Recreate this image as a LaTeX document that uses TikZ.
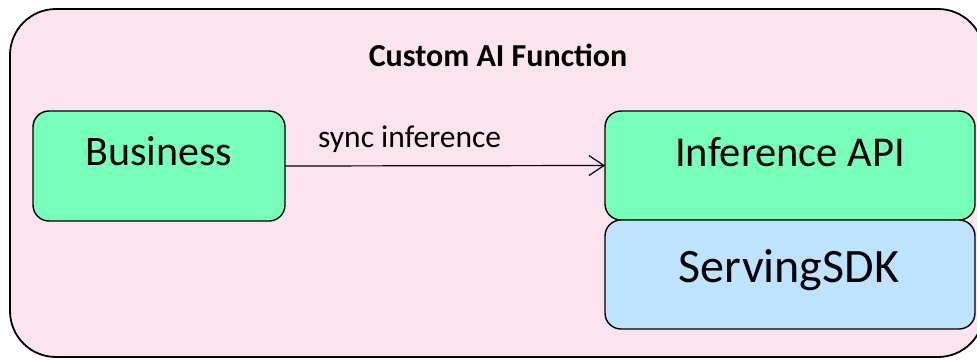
\documentclass[tikz,border=0pt]{standalone}
\usepackage{fontspec}
\setmainfont{Carlito}
\usetikzlibrary{arrows.meta}
\definecolor{framepink}{HTML}{FCE4EE}
\definecolor{boxgreen}{HTML}{77FFB9}
\definecolor{boxblue}{HTML}{BDE3FE}
\tikzset{
  px/.style={x=1pt,y=-1pt},
  frame/.style={draw=black, line width=1.8pt, fill=framepink, rounded corners=46pt,
    rectangle, inner sep=0pt, outer sep=0pt},
  block/.style={draw=black, line width=1.4pt, rectangle, rounded corners=16pt,
    inner sep=0pt, outer sep=0pt},
  greenblock/.style={block, fill=boxgreen},
  blueblock/.style={block, fill=boxblue},
  caption/.style={inner sep=0pt, anchor=base, font=\fontsize{42.5}{50}\selectfont},
  flow/.style={line width=1.2pt, -{Straight Barb[length=15pt,width=20pt,line width=1.2pt]}},
}
\begin{document}
\begin{tikzpicture}[px]
  \useasboundingbox (0,0) rectangle (977,359);
  \clip (0,0) rectangle (977,359);
  % enclosing frame, its right side runs past the page edge
  \node[frame, minimum width=974pt, minimum height=348pt] (frame) at (497,183) {};
  \node[inner sep=0pt, anchor=base, font=\bfseries\fontsize{32}{38}\selectfont] (title) at (498,66) {Custom AI Function};
  % caller
  \node[greenblock, minimum width=252pt, minimum height=110pt] (business) at (159,166) {};
  \node[caption, font=\fontsize{42}{50}\selectfont] (businessT) at (159,165) {Business};
  % callee stack
  \node[greenblock, minimum width=370pt, minimum height=109pt] (api) at (790,165.5) {};
  \node[caption] (apiT) at (790,166) {Inference API};
  \node[blueblock, minimum width=370pt, minimum height=109pt] (sdk) at (790,274.5) {};
  \node[caption, font=\fontsize{48}{56}\selectfont] (sdkT) at (789,282) {ServingSDK};
  % call
  \draw[flow] (business.east) -- (api.west);
  \node[inner sep=0pt, anchor=base west, font=\fontsize{31.5}{38}\selectfont] (callT) at (318,147) {sync inference};
\end{tikzpicture}
\end{document}
